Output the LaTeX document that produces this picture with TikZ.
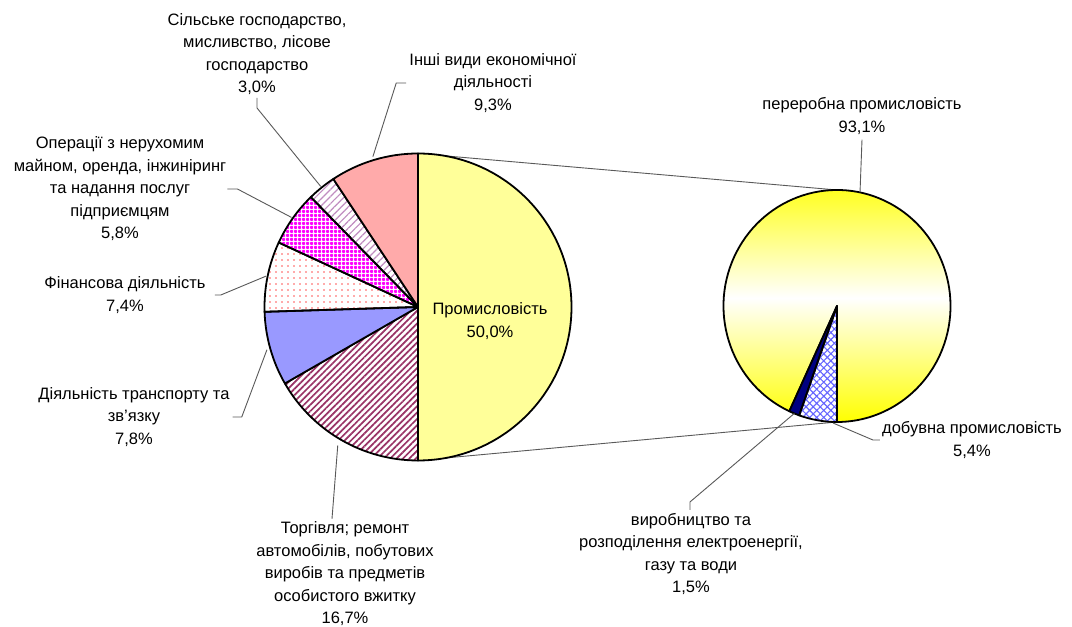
\documentclass[tikz,border=0pt]{standalone}
\usepackage{fontspec}
\setmainfont{Liberation Sans}
\usetikzlibrary{patterns.meta}
\definecolor{promC}{HTML}{FFFF99}
\definecolor{torgC}{HTML}{993366}
\definecolor{transC}{HTML}{9999FF}
\definecolor{finC}{HTML}{FF5555}
\definecolor{silC}{HTML}{C08CC0}
\definecolor{inshC}{HTML}{FFAAAA}
\definecolor{elC}{HTML}{000080}
\definecolor{dobC}{HTML}{6666FF}
\tikzset{slice/.style={draw=black, line width=1.8pt, line join=round}}
\tikzset{leader/.style={draw=black!65, line width=0.9pt}}
\tikzset{lbl/.style={
   align=center, inner sep=0pt, text=black,
   font=\fontsize{16.5}{22.5}\selectfont
}}

\begin{document}
\begin{tikzpicture}[x=1pt, y=1pt]

    \fill[white] (0,0) rectangle (1072,-625);

    \coordinate (Lc) at (418,-307);
    \coordinate (Rc) at (837,-306);
    \coordinate (Ltop) at (418,-153.5);
    \coordinate (Lbot) at (418,-460.5);
    \coordinate (Rtop) at (837,-190);
    \coordinate (Rbot) at (837,-422);

    % connectors between the two pies
    \draw[leader] (Ltop) -- (Rtop);
    \draw[leader] (Lbot) -- (Rbot);

    % left pie
    \draw[slice, fill=promC] (Lc) -- ++(90:153.5) arc[start angle=90, end angle=-90, radius=153.5] -- cycle;
    \draw[slice, pattern={Lines[angle=45, distance=4.5pt, line width=1.7pt]}, pattern color=torgC] (Lc) -- ++(270:153.5) arc[start angle=270, end angle=209.88, radius=153.5] -- cycle;
    \draw[slice, fill=transC] (Lc) -- ++(209.88:153.5) arc[start angle=209.88, end angle=181.8, radius=153.5] -- cycle;
    \draw[slice, pattern={Dots[distance=6pt, radius=0.9pt]}, pattern color=finC] (Lc) -- ++(181.8:153.5) arc[start angle=181.8, end angle=155.16, radius=153.5] -- cycle;
    \draw[slice, pattern={Hatch[angle=0, distance=4pt, line width=2.4pt]}, pattern color=magenta] (Lc) -- ++(155.16:153.5) arc[start angle=155.16, end angle=134.28, radius=153.5] -- cycle;
    \draw[slice, pattern={Lines[angle=45, distance=5pt, line width=1.2pt]}, pattern color=silC] (Lc) -- ++(134.28:153.5) arc[start angle=134.28, end angle=123.48, radius=153.5] -- cycle;
    \draw[slice, fill=inshC] (Lc) -- ++(123.48:153.5) arc[start angle=123.48, end angle=90, radius=153.5] -- cycle;

    % right pie
    \draw[slice, top color=yellow, bottom color=yellow, middle color=white] (Rc) -- ++(245.16:113.5 and 116) arc[start angle=245.16, end angle=-90, x radius=113.5, y radius=116] -- cycle;
    \draw[slice, fill=elC] (Rc) -- ++(250.56:113.5 and 116) arc[start angle=250.56, end angle=245.16, x radius=113.5, y radius=116] -- cycle;
    \draw[slice, pattern={Hatch[angle=45, distance=5pt, line width=1.1pt]}, pattern color=dobC] (Rc) -- ++(270:113.5 and 116) arc[start angle=270, end angle=250.56, x radius=113.5, y radius=116] -- cycle;

    % labels
    \node[lbl] (prom) at (490,-321) {Промисловість\\50,0\%};
    \node[lbl] (silske) at (257,-54) {Сільське господарство,\\мисливство, лісове\\господарство\\3,0\%};
    \node[lbl] (inshi) at (493,-83) {Інші види економічної\\діяльності\\9,3\%};
    \node[lbl] (oper) at (120,-189) {Операції з нерухомим\\майном, оренда, інжиніринг\\та надання послуг\\підприємцям\\5,8\%};
    \node[lbl] (finans) at (125,-295) {Фінансова діяльність\\7,4\%};
    \node[lbl] (transp) at (134,-417) {Діяльність транспорту та\\зв’язку\\7,8\%};
    \node[lbl] (torg) at (345,-574) {Торгівля; ремонт\\автомобілів, побутових\\виробів та предметів\\особистого вжитку\\16,7\%};
    \node[lbl] (pererob) at (862,-116) {переробна промисловість\\93,1\%};
    \node[lbl] (dobuv) at (972,-440) {добувна промисловість\\5,4\%};
    \node[lbl] (electro) at (691,-554) {виробництво та\\розподілення електроенергії,\\газу та води\\1,5\%};

    % leader ends on the slices
    \coordinate (silskeE) at ([shift={(128.9:155)}]Lc);
    \coordinate (inshiE) at ([shift={(106.7:157)}]Lc);
    \coordinate (operE) at ([shift={(144.7:155)}]Lc);
    \coordinate (finansE) at ([shift={(168.5:155)}]Lc);
    \coordinate (transpE) at ([shift={(195.8:157)}]Lc);
    \coordinate (torgE) at ([shift={(239.9:160)}]Lc);
    \coordinate (pererobE) at ([shift={(78.3:113.5 and 116)}]Rc);
    \coordinate (electroE) at ([shift={(247.9:113.5 and 116)}]Rc);
    \coordinate (dobuvE) at (833,-423);

    \draw[leader] ([yshift=-3pt]silske.south) -- ++(0,-10) -- (silskeE);
    \draw[leader] ([xshift=-3pt]inshi.west) -- ++(-10,0) -- (inshiE);
    \draw[leader] ([xshift=1pt]oper.east) -- ++(10,0) -- (operE);
    \draw[leader] ([xshift=9pt]finans.east) -- ++(6,0) -- (finansE);
    \draw[leader] ([xshift=3pt]transp.east) -- ++(9,0) -- (transpE);
    \draw[leader] ([shift={(-13,3)}]torg.north) -- (torgE);
    \draw[leader] ([yshift=-5pt]pererob.south) -- (pererobE);
    \draw[leader] ([shift={(-1,3)}]electro.north) -- ++(0,8) -- (electroE);
    \draw[leader] ([xshift=-2pt]dobuv.west) -- ++(-7,0) -- (dobuvE);

  \end{tikzpicture}
\end{document}
